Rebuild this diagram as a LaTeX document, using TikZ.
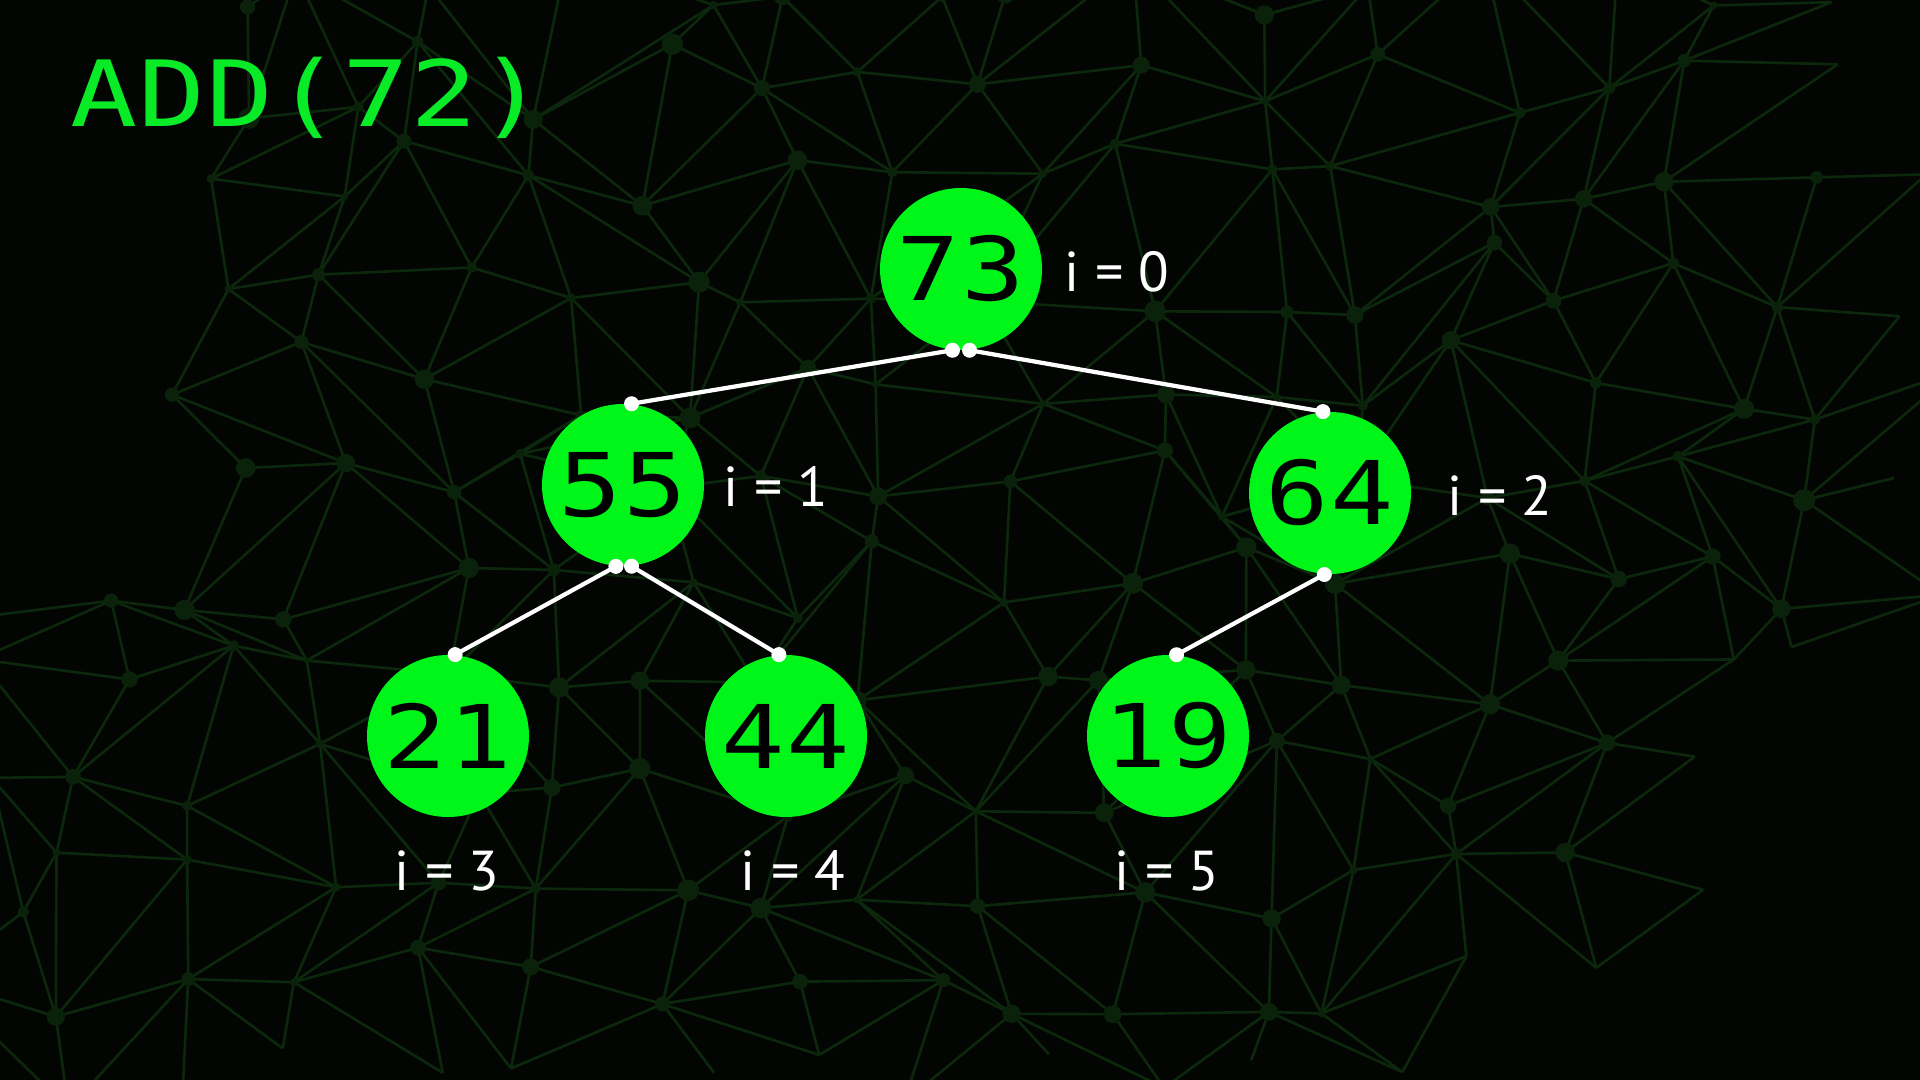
\documentclass[tikz,border=0pt]{standalone}
\usepackage{fontspec}
\setmainfont{PT Sans}
\newfontfamily\heapfont[FakeStretch=1.2,LetterSpace=2]{DejaVu Sans Mono}
\newfontfamily\titlefont[FakeStretch=1.22,LetterSpace=1]{DejaVu Sans Mono}
\usetikzlibrary{positioning}
\definecolor{heapgreen}{RGB}{0,245,25}
\definecolor{titlegreen}{RGB}{10,235,40}
\definecolor{meshgreen}{RGB}{12,40,12}
\definecolor{bgblack}{RGB}{3,5,3}

\tikzset{
  heapnode/.style={circle, fill=heapgreen, minimum size=1.62cm, inner sep=0pt,
                   text=black, font=\heapfont\fontsize{25}{25}\selectfont},
  idxlabel/.style={text=white, font=\fontsize{16}{16}\selectfont},
  link/.style={white, line width=1.2pt},
  linkdot/.style={white},
  meshline/.style={meshgreen, line width=0.75pt},
  meshdot/.style={meshgreen!85!black}
}

\begin{document}
\begin{tikzpicture}
    \fill[bgblack] (0,0) rectangle (19.2,-10.8);
    \useasboundingbox (0,0) rectangle (19.2,-10.8);

    % background mesh
    \begin{scope}
        \clip (0,0) rectangle (19.2,-10.8);
        \pgfmathsetseed{2718}
        \foreach \i in {0,...,17}{
            \foreach \j in {0,...,11}{
                \pgfmathsetmacro{\mx}{\i*1.15-0.2+0.45*rand}
                \pgfmathsetmacro{\my}{-\j*1.0+0.2+0.4*rand}
                \coordinate (m-\i-\j) at (\mx,\my);
            }
        }
        \foreach \i in {0,...,16}{
            \foreach \j in {0,...,10}{
                \pgfmathtruncatemacro{\ni}{\i+1}
                \pgfmathtruncatemacro{\nj}{\j+1}
                \pgfmathtruncatemacro{\meshoff}{(\i<2 && \j<6) || (\i>14 && \j>6) || (\i>12 && \j>9) || (\i>15 && \j<2)}
                \pgfmathtruncatemacro{\flip}{rnd<0.5}
                \ifnum\meshoff=0
                    \draw[meshline] (m-\i-\j) -- (m-\ni-\j) (m-\i-\j) -- (m-\i-\nj);
                    \ifnum\flip=1
                        \draw[meshline] (m-\i-\j) -- (m-\ni-\nj);
                    \else
                        \draw[meshline] (m-\ni-\j) -- (m-\i-\nj);
                    \fi
                    \fill[meshdot] (m-\i-\j) circle ({0.03+0.08*rnd});
                \fi
            }
        }
    \end{scope}

    % title
    \node[anchor=base west, text=titlegreen, inner sep=0pt,
          font=\titlefont\fontsize{26}{26}\selectfont] (title) at (0.70,-1.27) {ADD(72)};

    % heap
    \node[heapnode] (n73) at (9.61,-2.69) {73};
    \node[heapnode] (n55) at (6.23,-4.85) {55};
    \node[heapnode] (n64) at (13.30,-4.93) {64};
    \node[heapnode] (n21) at (4.48,-7.36) {21};
    \node[heapnode] (n44) at (7.86,-7.36) {44};
    \node[heapnode] (n19) at (11.68,-7.36) {19};

    \node[idxlabel] (i0) at (11.17,-2.72) {i = 0};
    \node[idxlabel] (i1) at (7.76,-4.86) {i = 1};
    \node[idxlabel] (i2) at (15.00,-4.95) {i = 2};
    \node[idxlabel] (i3) at (4.47,-8.71) {i = 3};
    \node[idxlabel] (i4) at (7.93,-8.71) {i = 4};
    \node[idxlabel] (i5) at (11.67,-8.71) {i = 5};

    \draw[link] (n73.264) -- (n55.84);
    \draw[link] (n73.276) -- (n64.95);
    \draw[link] (n55.265) -- (n21.85);
    \draw[link] (n55.276) -- (n44.95);
    \draw[link] (n64.266) -- (n19.84);
    \foreach \p in {n73.264, n73.276, n55.84, n64.95, n55.265, n55.276, n21.85, n44.95, n64.266, n19.84}
        \fill[linkdot] (\p) circle (0.075);
\end{tikzpicture}
\end{document}
